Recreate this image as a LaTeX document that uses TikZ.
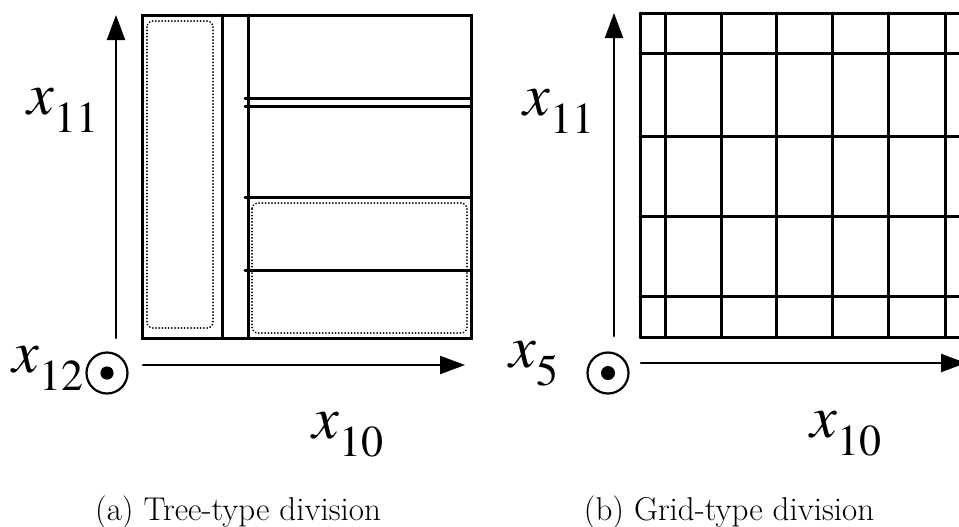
\documentclass[tikz,border=0pt]{standalone}
\usepackage{fontspec}
\usepackage{tikz}
\usetikzlibrary{arrows.meta, positioning, calc}
\newcommand{\lblfont}[1]{\fontencoding{OT1}\fontfamily{ptm}\fontseries{m}\fontshape{#1}}
\newcommand{\axname}[1]{{\lblfont{it}\fontsize{30}{30}\selectfont x}\raisebox{-9pt}{\lblfont{n}\fontsize{22}{22}\selectfont #1}}

\begin{document}
\begin{tikzpicture}[x=0.5pt,y=-0.5pt,line cap=round,
  cut/.style={line width=1.5pt},
  axis/.style={line width=1.1pt,-{Triangle[length=12.5pt,width=9pt]}},
  zone/.style={line width=0.9pt,black,dash pattern=on 0.1pt off 1.5pt,rounded corners=3pt},
  odot/.style={circle,draw,line width=1.1pt,minimum size=20.5pt,inner sep=0pt},
  lbl/.style={inner sep=0pt,anchor=base west},
  captext/.style={inner sep=0pt,anchor=base,font=\fontsize{16.5}{20}\selectfont}]
  \useasboundingbox (0,0) rectangle (959,526);

  % --- (a) divisione ad albero ---
  \draw[cut] (142,15) rectangle (471,338);
  \draw[cut] (222,15) -- (222,338);
  \draw[cut] (248,15) -- (248,338);
  \foreach \y in {98,106,197,270}
    \draw[cut] (245,\y) -- (471,\y);
  \draw[zone] (147,21) rectangle (213,328);
  \draw[zone] (252,203) rectangle (467,333);

  % assi
  \coordinate (a-ybot) at (116,338);
  \coordinate (a-ytop) at (116,15);
  \coordinate (a-xleft) at (143,365);
  \coordinate (a-xright) at (465,365);
  \draw[axis] (a-ybot) -- (a-ytop);
  \draw[axis] (a-xleft) -- (a-xright);
  \node[odot] (a-z) at (107,373) {};
  \fill (a-z.center) circle (3.3pt);

  \node[lbl] (a-l11) at (27,114) {\axname{11}};
  \node[lbl] (a-l12) at (12,372) {\axname{12}};
  \node[lbl] (a-l10) at (312,438) {\axname{10}};
  \node[captext] (a-cap) at (238,520) {(a) Tree-type division};

  % --- (b) divisione a griglia ---
  \foreach \x in {640,665,721,776,832,888,945}
    \draw[cut] (\x,13) -- (\x,337);
  \foreach \y in {13,53,136,216,296,337}
    \draw[cut] (640,\y) -- (975,\y);

  % assi
  \coordinate (b-ybot) at (614,336);
  \coordinate (b-ytop) at (614,13);
  \coordinate (b-xleft) at (641,363);
  \coordinate (b-xright) at (966,363);
  \draw[axis] (b-ybot) -- (b-ytop);
  \draw[axis] (b-xleft) -- (b-xright);
  \node[odot] (b-z) at (608,373) {};
  \fill (b-z.center) circle (3.5pt);

  \node[lbl] (b-l11) at (523,115) {\axname{11}};
  \node[lbl] (b-l5) at (509,367) {\axname{5}};
  \node[lbl] (b-l10) at (810,437) {\axname{10}};
  \node[captext] (b-cap) at (729,520) {(b) Grid-type division};
\end{tikzpicture}
\end{document}
